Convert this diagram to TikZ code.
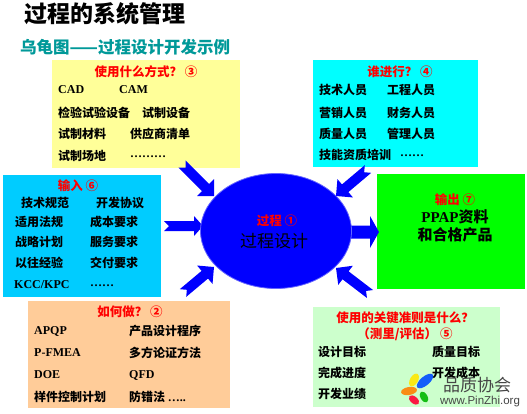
\documentclass[tikz,border=0pt]{standalone}
\usepackage{fontspec}
\setmainfont{Liberation Serif}
\newfontfamily\cjk{Noto Sans CJK SC}
\newfontfamily\wsans{Liberation Sans}
\usetikzlibrary{shapes.geometric}
\definecolor{yelbox}{RGB}{255,255,153}
\definecolor{cyanbox}{RGB}{0,255,255}
\definecolor{inbox}{RGB}{0,204,255}
\definecolor{outbox}{RGB}{0,255,0}
\definecolor{peachbox}{RGB}{255,204,153}
\definecolor{lgbox}{RGB}{204,255,204}
\definecolor{tealtxt}{RGB}{0,153,153}
\definecolor{arrowblue}{RGB}{0,0,255}
\definecolor{wmgray}{RGB}{70,70,70}
\newcommand\blockarrow[7]{%
 \pgfmathsetmacro\bdx{#3-(#1)}%
 \pgfmathsetmacro\bdy{#4-(#2)}%
 \pgfmathsetmacro\bL{veclen(\bdx,\bdy)}%
 \pgfmathsetmacro\bux{\bdx/\bL}%
 \pgfmathsetmacro\buy{\bdy/\bL}%
 \pgfmathsetmacro\bh{\bL-#7}%
 \coordinate (a1) at ({#1-(\buy)*(#5)},{#2+(\bux)*(#5)});
 \coordinate (a2) at ({#1+(\bux)*\bh-(\buy)*(#5)},{#2+(\buy)*\bh+(\bux)*(#5)});
 \coordinate (a3) at ({#1+(\bux)*\bh-(\buy)*(#6)},{#2+(\buy)*\bh+(\bux)*(#6)});
 \coordinate (a4) at (#3,#4);
 \coordinate (a5) at ({#1+(\bux)*\bh+(\buy)*(#6)},{#2+(\buy)*\bh-(\bux)*(#6)});
 \coordinate (a6) at ({#1+(\bux)*\bh+(\buy)*(#5)},{#2+(\buy)*\bh-(\bux)*(#5)});
 \coordinate (a7) at ({#1+(\buy)*(#5)},{#2-(\bux)*(#5)});
 \coordinate (a8) at ({#1+(\bux)*(#5)},{#2+(\buy)*(#5)});
 \fill[arrowblue] (a1)--(a2)--(a3)--(a4)--(a5)--(a6)--(a7)--(a8)--cycle;
}
\begin{document}
\begin{tikzpicture}[x=1pt,y=-1pt,
  txt/.style={anchor=west,inner sep=0pt,font=\cjk\bfseries\fontsize{12}{12}\selectfont},
  lat/.style={anchor=west,inner sep=0pt,font=\bfseries\fontsize{12}{12}\selectfont},
  hdr/.style={inner sep=0pt,text=red,font=\cjk\bfseries\fontsize{12.5}{13}\selectfont}]
\useasboundingbox[fill=white] (0,0) rectangle (527,413);

% titles
\node[anchor=west,inner sep=0pt,font=\cjk\bfseries\fontsize{23}{23}\selectfont] (title) at (24,14) {过程的系统管理};
\node[anchor=west,inner sep=0pt,text=tealtxt,font=\cjk\bfseries\fontsize{16.5}{17}\selectfont] (sub) at (20,47) {乌龟图——过程设计开发示例};

% boxes
\fill[yelbox] (52,60) rectangle (240,168);
\fill[cyanbox] (313,60) rectangle (478,167);
\fill[inbox] (3,175) rectangle (161,297);
\fill[outbox] (377,174) rectangle (525,289);
\fill[peachbox] (28,301) rectangle (230,408);
\fill[lgbox] (313,307) rectangle (500,407);

% arrows
\blockarrow{182}{164}{214}{196}{5}{12}{12}
\blockarrow{164}{226}{203}{226}{5}{10}{9}
\blockarrow{183}{293}{214}{267}{5}{12}{12}
\blockarrow{368}{169}{336}{196}{5}{12}{12}
\blockarrow{340}{232}{379}{232}{6.5}{16}{9}
\blockarrow{370}{294}{336}{268}{5}{12}{12}

% process ellipse
\node[ellipse,fill=arrowblue,draw=blue!60!white,line width=0.8pt,minimum width=151,minimum height=115,inner sep=0pt] (proc) at (276,231) {};
\node[hdr] (proch) at (277,221) {过程\ ①};
\node[inner sep=0pt,font=\cjk\fontsize{17}{17}\selectfont] (procl) at (274,241) {过程设计};

% top-left: resources
\node[hdr] (wh) at (146,72) {使用什么方式？\ ③};
\node[lat] (w1a) at (58,90) {CAD};
\node[lat] (w1b) at (119,90) {CAM};
\node[txt] (w2a) at (58,113) {检验试验设备};
\node[txt] (w2b) at (142,113) {试制设备};
\node[txt] (w3a) at (58,134) {试制材料};
\node[txt] (w3b) at (130,134) {供应商清单};
\node[txt] (w4a) at (58,156) {试制场地};
\node[lat] (w4b) at (130,157) {………};

% top-right: who
\node[hdr] (whoh) at (400,72) {谁进行？\ ④};
\node[txt] (p1a) at (319,90) {技术人员};
\node[txt] (p1b) at (387,90) {工程人员};
\node[txt] (p2a) at (319,113) {营销人员};
\node[txt] (p2b) at (387,113) {财务人员};
\node[txt] (p3a) at (319,134) {质量人员};
\node[txt] (p3b) at (387,134) {管理人员};
\node[txt] (p4a) at (319,155) {技能资质培训};
\node[lat] (p4b) at (400,156) {……};

% left: input
\node[hdr] (inh) at (78,186) {输入\ ⑥};
\node[txt] (i1a) at (21,203) {技术规范};
\node[txt] (i1b) at (96,203) {开发协议};
\node[txt] (i2a) at (15,222) {适用法规};
\node[txt] (i2b) at (90,222) {成本要求};
\node[txt] (i3a) at (15,242) {战略计划};
\node[txt] (i3b) at (90,242) {服务要求};
\node[txt] (i4a) at (15,263) {以往经验};
\node[txt] (i4b) at (90,263) {交付要求};
\node[lat] (i5a) at (14,285) {KCC/KPC};
\node[lat] (i5b) at (90,286) {……};

% right: output
\node[hdr] (outh) at (455,200) {输出\ ⑦};
\node[inner sep=0pt,font=\bfseries\fontsize{15}{15}\selectfont] (o1) at (455,217) {PPAP{\cjk 资料}};
\node[inner sep=0pt,font=\cjk\bfseries\fontsize{15}{15}\selectfont] (o2) at (455,235) {和合格产品};

% bottom-left: how
\node[hdr] (howh) at (130,312) {如何做？\ ②};
\node[lat] (h1a) at (34,331) {APQP};
\node[txt] (h1b) at (129,331) {产品设计程序};
\node[lat] (h2a) at (34,353) {P-FMEA};
\node[txt] (h2b) at (129,353) {多方论证方法};
\node[lat] (h3a) at (34,375) {DOE};
\node[lat] (h3b) at (129,375) {QFD};
\node[txt] (h4a) at (34,397) {样件控制计划};
\node[txt] (h4b) at (129,397) {防错法\ {\rmfamily …..}};

% bottom-right: measures
\node[hdr] (mh1) at (405,318) {使用的关键准则是什么？};
\node[hdr] (mh2) at (405,334) {（测里/评估）\ ⑤};
\node[txt] (m1a) at (318,352) {设计目标};
\node[txt] (m1b) at (432,352) {质量目标};
\node[txt] (m2a) at (318,373) {完成进度};
\node[txt] (m2b) at (432,373) {开发成本};
\node[txt] (m3a) at (318,394) {开发业绩};

% watermark
\begin{scope}[opacity=0.9]
\fill[blue!70!cyan,rotate around={40:(425,381)}] (425,381) ellipse (10 and 4.5);
\fill[yellow!90!orange,rotate around={-30:(414,380)}] (414,380) ellipse (4 and 7);
\fill[orange,rotate around={10:(409,391)}] (409,391) ellipse (8 and 4);
\fill[red!80!magenta,rotate around={-40:(414,400)}] (414,400) ellipse (6 and 3.5);
\fill[green!60!black!70!green,rotate around={30:(424,397)}] (424,397) ellipse (3.5 and 6);
\end{scope}
\node[inner sep=0pt,text=wmgray,font=\cjk\fontsize{17}{17}\selectfont] (wm1) at (477,385) {品质协会};
\node[inner sep=0pt,text=wmgray,font=\wsans\fontsize{11.5}{12}\selectfont] (wm2) at (480,402) {www.PinZhi.org};
\end{tikzpicture}
\end{document}
